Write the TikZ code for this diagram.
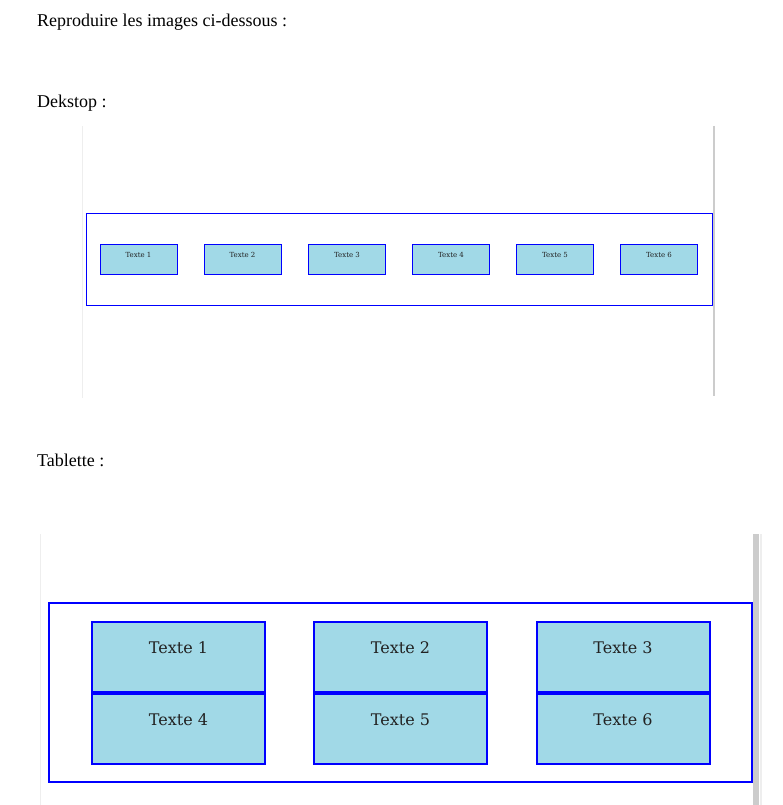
\documentclass[tikz,border=0pt]{standalone}
\usepackage{fontspec}
\usetikzlibrary{calc}
\setmainfont{Liberation Serif}
\newfontfamily\boxfont{DejaVu Serif}
\definecolor{cellfill}{RGB}{161,217,231}
\definecolor{edgeblue}{RGB}{0,0,255}
\definecolor{bargray}{RGB}{204,204,204}
\definecolor{faintgray}{RGB}{238,238,238}
\definecolor{ink}{RGB}{34,34,34}
\tikzset{
  heading/.style={anchor=base west, inner sep=0pt, font=\fontsize{18}{21}\selectfont},
  smallcell/.style={draw=edgeblue, line width=1pt, fill=cellfill, minimum width=77pt, minimum height=30pt, inner sep=0pt},
  smalltext/.style={inner sep=0pt, text=ink, font=\boxfont\fontsize{7}{8}\selectfont},
  bigcell/.style={draw=edgeblue, line width=2pt, fill=cellfill, minimum width=173pt, minimum height=70pt, inner sep=0pt},
  bigtext/.style={inner sep=0pt, text=ink, font=\boxfont\fontsize{16}{19}\selectfont},
  frame/.style={draw=edgeblue, inner sep=0pt}
}
\begin{document}
\begin{tikzpicture}[x=1pt,y=-1pt]
\useasboundingbox (0,0) rectangle (783,805);

% headings
\node[heading] (title) at (37,27) {Reproduire les images ci-dessous :};
\node[heading] (desk) at (37,108) {Dekstop :};
\node[heading] (tab) at (37,466) {Tablette :};

% desktop viewport edges
\draw[faintgray, line width=0.8pt] (82,126) -- (82,398);
\draw[bargray, line width=2pt] (714,126) -- (714,396);

% desktop layout: one row of six cells
\node[frame, line width=1pt, minimum width=626pt, minimum height=92pt] (drow) at (399,259) {};
\foreach \i/\x in {1/138.5,2/242.5,3/347,4/451,5/555,6/659}{
  \node[smallcell] (d\i) at (\x,259) {};
  \node[smalltext] (dl\i) at ($(d\i.north)+(0,11)$) {Texte \i};
}

% tablet viewport edges
\draw[faintgray, line width=1pt] (40,534) -- (40,805);
\draw[bargray, line width=6pt] (756,534) -- (756,805);
\draw[faintgray, line width=2pt] (761,534) -- (761,805);

% tablet layout: three columns, two rows
\node[frame, line width=2pt, minimum width=703pt, minimum height=179pt] (tgrid) at (400.5,692.5) {};
\foreach \i/\x/\y in {1/178.5/657,2/400.5/657,3/623/657,4/178.5/729,5/400.5/729,6/623/729}{
  \node[bigcell] (t\i) at (\x,\y) {};
  \node[bigtext] (tl\i) at ($(t\i.north)+(0,27)$) {Texte \i};
}
\end{tikzpicture}
\end{document}
